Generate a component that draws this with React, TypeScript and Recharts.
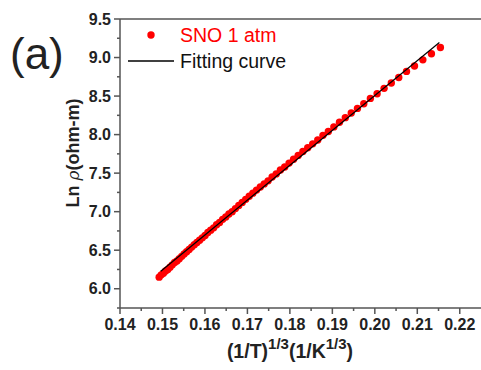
import React from 'react';
import { ComposedChart, Scatter, XAxis, YAxis, ReferenceLine, Legend, Label } from 'recharts';

// (1/T)^(1/3) values of the measured points
const xValues = [
  0.21544, 0.21333, 0.21131, 0.20934, 0.20746, 0.20564, 0.20388, 0.20218, 0.20054, 0.19895,
  0.1974, 0.19591, 0.19445, 0.19305, 0.19168, 0.19035, 0.18905, 0.18779, 0.18656, 0.18537,
  0.1842, 0.18306, 0.18195, 0.18087, 0.17981, 0.17878, 0.17777, 0.17678, 0.17582, 0.17487,
  0.17395, 0.17304, 0.17215, 0.17128, 0.17043, 0.1696, 0.16878, 0.16797, 0.16718, 0.16641,
  0.16565, 0.16491, 0.16417, 0.16345, 0.16274, 0.16205, 0.16136, 0.16069, 0.16003, 0.15938,
  0.15874, 0.15811, 0.15749, 0.15688, 0.15628, 0.15569, 0.1551, 0.15453, 0.15396, 0.15341,
  0.15286, 0.15231, 0.15178, 0.15125, 0.15073, 0.15022, 0.14971, 0.14922,
];
// Ln rho (ohm-m) of the measured points (SNO 1 atm)
const lnRho = [
  9.13, 9.05, 8.97, 8.89, 8.82, 8.74, 8.67, 8.6, 8.53, 8.47,
  8.4, 8.34, 8.28, 8.22, 8.16, 8.1, 8.04, 7.99, 7.93, 7.88,
  7.83, 7.78, 7.73, 7.68, 7.63, 7.58, 7.54, 7.49, 7.45, 7.4,
  7.36, 7.32, 7.28, 7.24, 7.2, 7.16, 7.12, 7.08, 7.04, 7.0,
  6.97, 6.93, 6.9, 6.86, 6.83, 6.79, 6.76, 6.73, 6.69, 6.66,
  6.63, 6.6, 6.57, 6.54, 6.51, 6.48, 6.45, 6.42, 6.39, 6.36,
  6.34, 6.31, 6.28, 6.25, 6.23, 6.2, 6.18, 6.15,
];
// Fitting curve end points
const fitX = [0.1496, 0.2152];
const fitY = [6.227, 9.195];

const xMajorTicks = [0.14, 0.15, 0.16, 0.17, 0.18, 0.19, 0.2, 0.21, 0.22];
const xMinorTicks = [0.145, 0.155, 0.165, 0.175, 0.185, 0.195, 0.205, 0.215];
const yMajorTicks = [6.0, 6.5, 7.0, 7.5, 8.0, 8.5, 9.0, 9.5];
const yMinorTicks = [5.75, 6.25, 6.75, 7.25, 7.75, 8.25, 8.75, 9.25];

const seriesName = 'SNO 1 atm';
const fitName = 'Fitting curve';

const points = xValues.map((x, i) => ({ x, y: lnRho[i] }));
const fitData = fitX.map((x, i) => ({ x, y: fitY[i] }));
const xTicks = [...xMajorTicks, ...xMinorTicks].sort((a, b) => a - b);
const yTicks = [...yMajorTicks, ...yMinorTicks].sort((a, b) => a - b);

const AXIS = '#555';
const FONT = '"Liberation Sans", Arial, sans-serif';

const isMajor = (list: number[], v: number) => list.some((m) => Math.abs(m - v) < 1e-9);

const XTick = (props: any) => {
  const { x, y, payload } = props;
  const v = payload.value as number;
  const major = isMajor(xMajorTicks, v);
  return (
    <g>
      <line x1={x} x2={x} y1={y} y2={y + (major ? 6 : 3)} stroke={AXIS} strokeWidth={1.5} />
      {major && (
        <text x={x} y={y + 22} textAnchor="middle" fontFamily={FONT} fontWeight="bold" fontSize={16} fill="#222">
          {v.toFixed(2)}
        </text>
      )}
    </g>
  );
};

const YTick = (props: any) => {
  const { x, y, payload } = props;
  const v = payload.value as number;
  const major = isMajor(yMajorTicks, v);
  return (
    <g>
      <line x1={x} x2={x - (major ? 6 : 3)} y1={y} y2={y} stroke={AXIS} strokeWidth={1.5} />
      {major && (
        <text x={x - 9} y={y + 5.5} textAnchor="end" fontFamily={FONT} fontWeight="bold" fontSize={16} fill="#222">
          {v.toFixed(1)}
        </text>
      )}
    </g>
  );
};

const Dot = (props: any) => <circle cx={props.cx} cy={props.cy} r={3.7} fill="#ff0000" />;
const NoDot = () => <g />;

const renderLegend = () => (
  <svg width={481} height={80} style={{ display: 'block' }}>
    <circle cx={151} cy={35} r={3.7} fill="#ff0000" />
    <text x={180} y={42} fontFamily={FONT} fontSize={19.5} fill="#ff0000">{seriesName}</text>
    <line x1={128} x2={174} y1={61} y2={61} stroke="#000" strokeWidth={1.3} />
    <text x={180} y={68} fontFamily={FONT} fontSize={19.5} fill="#111">{fitName}</text>
  </svg>
);

const XLabel = () => (
  <text x={290} y={358} textAnchor="middle" fontFamily={FONT} fontWeight="bold" fontSize={19.5} fill="#222">
    <tspan>(1/T)</tspan>
    <tspan dy={-9} fontSize={15}>1/3</tspan>
    <tspan dy={9}>(1/K</tspan>
    <tspan dy={-9} fontSize={15}>1/3</tspan>
    <tspan dy={9}>)</tspan>
  </text>
);

const YLabel = () => (
  <text transform="translate(79,153) rotate(-90)" textAnchor="middle" fontFamily={FONT} fontSize={18} fill="#222">
    <tspan fontWeight="bold">Ln </tspan>
    <tspan fontStyle="italic" fontFamily='"DejaVu Serif", serif' fontSize={17}>ρ</tspan>
    <tspan fontWeight="bold">(ohm-m)</tspan>
  </text>
);

export default function App() {
  return (
    <div style={{ position: 'absolute', left: 0, top: 0, width: 481, height: 370, background: '#fff' }}>
      <ComposedChart width={481} height={370} margin={{ top: 19, right: 0, bottom: 0, left: 0 }}>
        <XAxis
          dataKey="x"
          type="number"
          domain={[0.14, 0.225]}
          ticks={xTicks}
          interval={0}
          height={62}
          tickSize={0}
          tickMargin={0}
          tickLine={false}
          axisLine={{ stroke: AXIS, strokeWidth: 1.5 }}
          tick={<XTick />}
        >
          <Label content={<XLabel />} />
        </XAxis>
        <YAxis
          dataKey="y"
          type="number"
          domain={[5.75, 9.5]}
          ticks={yTicks}
          interval={0}
          width={120}
          tickSize={0}
          tickMargin={0}
          tickLine={false}
          axisLine={{ stroke: AXIS, strokeWidth: 1.5 }}
          tick={<YTick />}
        >
          <Label content={<YLabel />} />
        </YAxis>
        <ReferenceLine y={9.5} stroke={AXIS} strokeWidth={1.5} />
        <Legend
          layout="vertical"
          align="center"
          verticalAlign="middle"
          content={renderLegend}
          wrapperStyle={{ position: 'absolute', left: 0, top: 0, width: 481, height: 80 }}
        />
        <Scatter name={seriesName} data={points} dataKey="y" fill="#ff0000" shape={<Dot />} isAnimationActive={false} />
        <Scatter
          name={fitName}
          data={fitData}
          dataKey="y"
          fill="#000"
          line={{ stroke: '#000', strokeWidth: 1.2 }}
          lineType="joint"
          shape={<NoDot />}
          isAnimationActive={false}
        />
      </ComposedChart>
      <div style={{ position: 'absolute', left: 10, top: 29, fontFamily: FONT, fontSize: 44, color: '#222', lineHeight: '50px' }}>
        (a)
      </div>
    </div>
  );
}
